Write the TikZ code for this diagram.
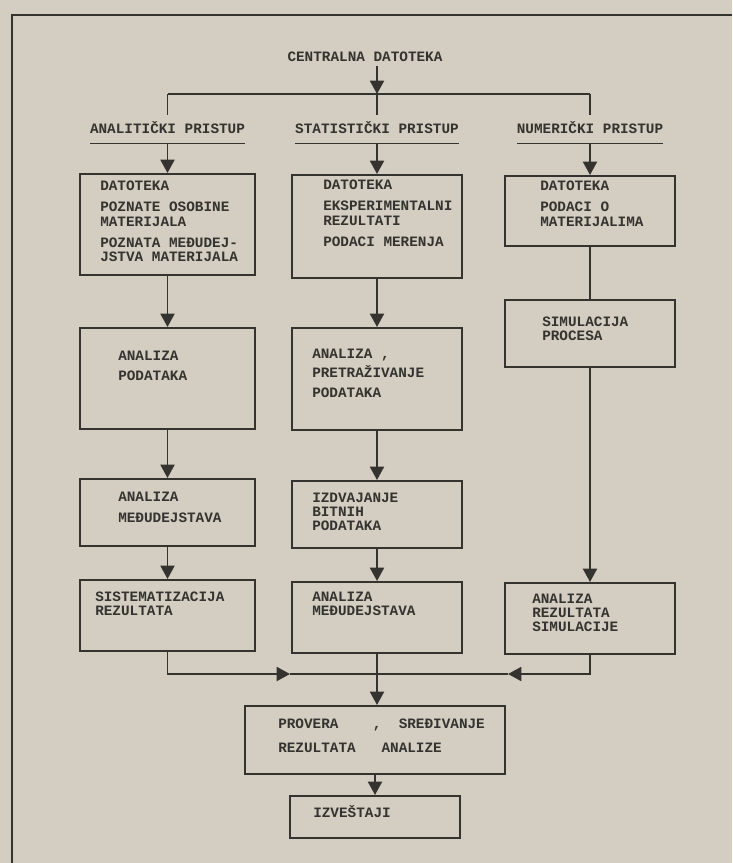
\documentclass[tikz,border=0pt]{standalone}
\usepackage{fontspec}
\usepackage{tikz}
\usetikzlibrary{arrows.meta, calc}
\newfontfamily\typewr[UprightFont=* Bold]{Liberation Mono}
\definecolor{DiagPaper}{HTML}{D3CEC1}
\definecolor{DiagInk}{HTML}{35332F}
\tikzset{
  txt/.style={DiagInk, font=\typewr\fontsize{10.2}{10}\selectfont, inner sep=0pt, align=left},
  lbl/.style={txt, text height=7pt, text depth=0pt, inner xsep=0pt, inner ysep=6.5pt, fill=DiagPaper},
  box/.style={draw=DiagInk, line width=1.5pt, anchor=north, inner sep=0pt},
  line/.style={DiagInk, line width=1.3pt},
  arr/.style={line, -{Triangle[width=10pt, length=9.5pt]}}
}
\begin{document}
\begin{tikzpicture}[x=0.025cm, y=-0.025cm]
  \useasboundingbox (0,0) rectangle (732,863);
  \fill[DiagPaper] (0,0) rectangle (732,863);
  %% outer frame
  \draw[DiagInk, line width=1.8pt] (12,863) -- (12,15) -- (732,15);

  %% header
  \node[txt, inner sep=3pt] (cdat) at (365,57) {CENTRALNA DATOTEKA};
  \coordinate (split) at (377,94);
  \node[lbl] (lblA) at (167.5,129) {ANALITIČKI PRISTUP};
  \node[lbl] (lblS) at (377,129) {STATISTIČKI PRISTUP};
  \node[lbl] (lblN) at (590,129) {NUMERIČKI PRISTUP};
  \draw[DiagInk, line width=1pt] (lblA.south west) -- (lblA.south east)
                                 (lblS.south west) -- (lblS.south east)
                                 (lblN.south west) -- (lblN.south east);

  %% analiticki pristup
  \node[box, minimum width=4.375cm, minimum height=2.525cm] (A1) at (167.5,173) {};
  \node[box, minimum width=4.375cm, minimum height=2.525cm] (A2) at (167.5,327) {};
  \node[box, minimum width=4.375cm, minimum height=1.675cm] (A3) at (167.5,478) {};
  \node[box, minimum width=4.375cm, minimum height=1.775cm] (A4) at (167.5,579) {};
  \node[txt, anchor=north west] (A1t) at (100,181)
    {DATOTEKA\\[5pt]POZNATE OSOBINE\\MATERIJALA\\[5pt]POZNATA MEĐUDEJ-\\JSTVA MATERIJALA};
  \node[txt, anchor=north west] (A2t) at (118,351) {ANALIZA\\[4pt]PODATAKA};
  \node[txt, anchor=north west] (A3t) at (118,492) {ANALIZA\\[5pt]MEĐUDEJSTAVA};
  \node[txt, anchor=north west] (A4t) at (95,592) {SISTEMATIZACIJA\\REZULTATA};

  %% statisticki pristup
  \node[box, minimum width=4.25cm, minimum height=2.575cm] (S1) at (377,174) {};
  \node[box, minimum width=4.25cm, minimum height=2.55cm] (S2) at (377,327) {};
  \node[box, minimum width=4.25cm, minimum height=1.675cm] (S3) at (377,480) {};
  \node[box, minimum width=4.25cm, minimum height=1.775cm] (S4) at (377,581) {};
  \node[txt, anchor=north west] (S1t) at (323,180)
    {DATOTEKA\\[5pt]EKSPERIMENTALNI\\REZULTATI\\[5pt]PODACI MERENJA};
  \node[txt, anchor=north west] (S2t) at (312,349) {ANALIZA ,\\[2pt]PRETRAŽIVANJE\\[4pt]PODATAKA};
  \node[txt, anchor=north west] (S3t) at (312,493) {IZDVAJANJE\\BITNIH\\PODATAKA};
  \node[txt, anchor=north west] (S4t) at (312,592) {ANALIZA\\MEĐUDEJSTAVA};

  %% numericki pristup
  \node[box, minimum width=4.25cm, minimum height=1.75cm] (N1) at (590,175) {};
  \node[box, minimum width=4.25cm, minimum height=1.675cm] (N2) at (590,299) {};
  \node[box, minimum width=4.25cm, minimum height=1.775cm] (N3) at (590,582) {};
  \node[txt, anchor=north west] (N1t) at (540,181) {DATOTEKA\\[5pt]PODACI O\\MATERIJALIMA};
  \node[txt, anchor=north west] (N2t) at (542,317) {SIMULACIJA\\PROCESA};
  \node[txt, anchor=north west] (N3t) at (532,594) {ANALIZA\\REZULTATA\\SIMULACIJE};

  %% zajednicki deo
  \node[box, minimum width=6.5cm, minimum height=1.7cm] (P) at (375,705) {};
  \node[box, minimum width=4.25cm, minimum height=1.05cm] (I) at (375,795) {};
  \node[txt, anchor=north west] (Pt) at (278,719)
    {PROVERA\hphantom{0000},\hphantom{00}SREĐIVANJE\\[7pt]REZULTATA\hphantom{000}ANALIZE};
  \node[txt, anchor=base west] (It) at (313,817) {IZVEŠTAJI};

  %% veze
  \draw[arr] (cdat.south -| split) -- (split);
  \draw[line] (split -| lblA) -- (split -| lblN);
  \draw[line] (split -| lblA) -- (lblA);
  \draw[line] (split) -- (lblS);
  \draw[line] (split -| lblN) -- (lblN);
  \draw[arr] (lblA) -- (A1);
  \draw[arr] (lblS) -- (S1);
  \draw[arr] (lblN) -- (N1);
  \draw[arr] (A1) -- (A2);
  \draw[arr] (A2) -- (A3);
  \draw[arr] (A3) -- (A4);
  \draw[arr] (S1) -- (S2);
  \draw[arr] (S2) -- (S3);
  \draw[arr] (S3) -- (S4);
  \draw[line] (N1) -- (N2);
  \draw[arr] (N2) -- (N3);
  \coordinate (join) at (377,674);
  \coordinate (midL) at (290,674);
  \coordinate (midR) at (508,674);
  \draw[arr] (A4.south) |- (midL);
  \draw[line] (midL) -- (join);
  \draw[arr] (N3.south) |- (midR);
  \draw[line] (midR) -- (join);
  \draw[arr] (S4.south) -- (S4.south |- P.north);
  \draw[arr] (P) -- (I);
\end{tikzpicture}
\end{document}
